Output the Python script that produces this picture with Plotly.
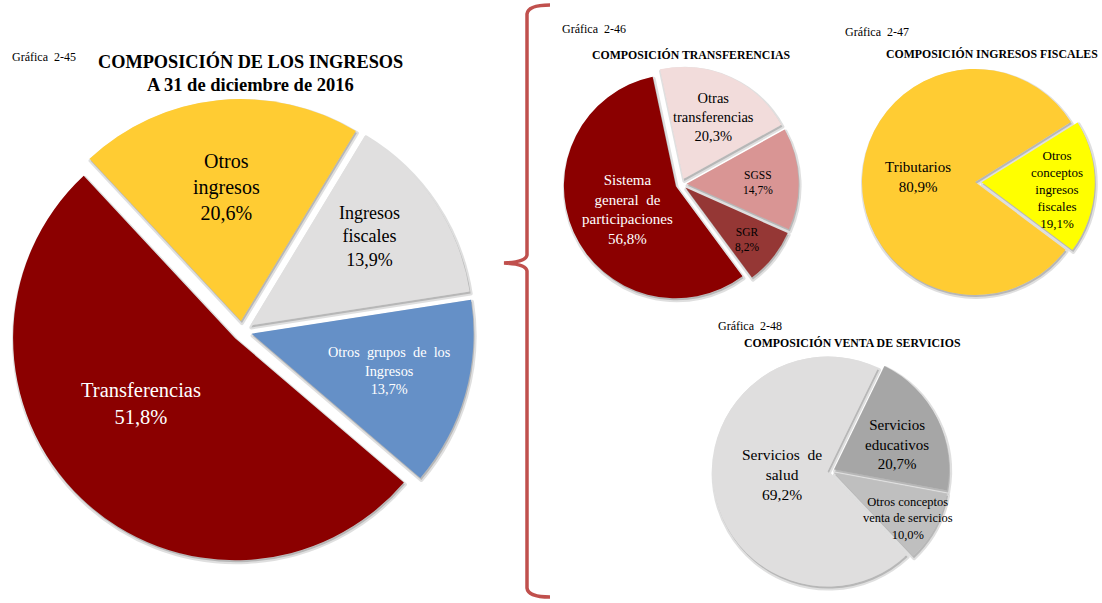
import plotly.graph_objects as go

W, H = 1102, 603
SERIF = "Liberation Serif"

# ---- data -------------------------------------------------------------
main_labels = ["Otros<br>ingresos", "Ingresos<br>fiscales",
               "Otros  grupos  de  los<br>Ingresos", "Transferencias"]
main_values = [20.6, 13.9, 13.7, 51.8]

transf_labels = ["Otras<br>transferencias", "SGSS", "SGR",
                 "Sistema<br>general  de<br>participaciones"]
transf_values = [20.3, 14.7, 8.2, 56.8]

fiscal_labels = ["Otros<br>conceptos<br>ingresos<br>fiscales", "Tributarios"]
fiscal_values = [19.1, 80.9]

serv_labels = ["Servicios<br>educativos",
               "Otros conceptos<br>venta de servicios",
               "Servicios  de<br>salud"]
serv_values = [20.7, 10.0, 69.2]


def px(x, y):
    return x / W, 1 - y / H


def domain(cx, cy, r, pull):
    half = r * (1 + pull)
    return dict(x=[(cx - half) / W, (cx + half) / W],
                y=[1 - (cy + half) / H, 1 - (cy - half) / H])


def pct(v):
    return f"{v:.1f}%".replace(".", ",")


fig = go.Figure()


def add_pie(values, colors, pulls, rotation, cx, cy, r):
    dom = domain(cx, cy, r, max(pulls))
    # soft grey halo under the slices
    sdom = domain(cx + 1, cy + 2, r, max(pulls))
    fig.add_trace(go.Pie(
        values=values, sort=False, direction="clockwise", rotation=rotation,
        pull=pulls, domain=sdom, textinfo="none", hoverinfo="skip",
        marker=dict(colors=["rgba(110,110,110,0.35)"] * len(values),
                    line=dict(color="rgba(110,110,110,0.22)", width=4)),
        showlegend=False))
    fig.add_trace(go.Pie(
        values=values, sort=False, direction="clockwise", rotation=rotation,
        pull=pulls, domain=dom, textinfo="none", hoverinfo="skip",
        marker=dict(colors=colors, line=dict(color="rgba(0,0,0,0)", width=0)),
        showlegend=False))


# Composición de los ingresos
add_pie(main_values, ["#FFCC33", "#E0DFDF", "#6590C7", "#8B0000"],
        [0.045, 0.045, 0.045, 0.045], -43, 242, 331, 222)
# Composición transferencias
add_pie(transf_values, ["#F2DCDB", "#D99594", "#953735", "#8B0000"],
        [0.05, 0.05, 0.05, 0.05], -12, 681, 184, 112)
# Composición ingresos fiscales
add_pie(fiscal_values, ["#FFFF00", "#FFCC33"],
        [0.06, 0.0], 58, 975, 182, 113)
# Composición venta de servicios
add_pie(serv_values, ["#A6A6A6", "#BFBFBF", "#DFDEDE"],
        [0.03, 0.03, 0.03], 26, 831, 471, 115)

ann = []


def text(x, y, s, size, color="#000000", bold=False, anchor="center"):
    ax, ay = px(x, y)
    if bold:
        s = f"<b>{s}</b>"
    ann.append(dict(x=ax, y=ay, xref="paper", yref="paper", text=s,
                    showarrow=False, xanchor=anchor, yanchor="middle",
                    align="center",
                    font=dict(family=SERIF, size=size, color=color)))


def slice_label(x, y, label, value, size, color="#000000"):
    text(x, y, f"{label}<br>{pct(value)}", size, color)


# titles
text(10, 57, "Gráfica  2-45", 12, anchor="left")
text(250, 62, "COMPOSICIÓN DE LOS INGRESOS", 18.3, bold=True)
text(250, 85, "A 31 de diciembre de 2016", 18.5, bold=True)
text(560, 29, "Gráfica  2-46", 12, anchor="left")
text(691, 55, "COMPOSICIÓN TRANSFERENCIAS", 11.8, bold=True)
text(843, 32, "Gráfica  2-47", 12, anchor="left")
text(992, 54, "COMPOSICIÓN INGRESOS FISCALES", 11.8, bold=True)
text(716, 326, "Gráfica  2-48", 12, anchor="left")
text(852, 343, "COMPOSICIÓN VENTA DE SERVICIOS", 11.8, bold=True)

# slice labels
slice_label(226, 187, main_labels[0], main_values[0], 20)
slice_label(369, 236, main_labels[1], main_values[1], 18)
slice_label(389, 370, main_labels[2], main_values[2], 14.3, "#FFFFFF")
slice_label(141, 403, main_labels[3], main_values[3], 20.5, "#FFFFFF")

slice_label(713, 117, transf_labels[0], transf_values[0], 14.5)
slice_label(758, 183, transf_labels[1], transf_values[1], 11.5)
slice_label(747, 240, transf_labels[2], transf_values[2], 11.5)
slice_label(627, 210, transf_labels[3], transf_values[3], 15, "#FFFFFF")

slice_label(1057, 189, fiscal_labels[0], fiscal_values[0], 13)
slice_label(918, 177, fiscal_labels[1], fiscal_values[1], 15)

slice_label(897, 444, serv_labels[0], serv_values[0], 15)
slice_label(908, 518, serv_labels[1], serv_values[1], 12.5)
slice_label(782, 474, serv_labels[2], serv_values[2], 15.5)

# curly brace joining the detail charts
pts = [(550, 5), (528, 5), (527, 14), (527, 255), (526, 262), (504, 263),
       (526, 264), (527, 271), (527, 588), (528, 597), (550, 597)]
p = [px(x, y) for x, y in pts]
path = (f"M {p[0][0]},{p[0][1]} Q {p[1][0]},{p[1][1]} {p[2][0]},{p[2][1]} "
        f"L {p[3][0]},{p[3][1]} Q {p[4][0]},{p[4][1]} {p[5][0]},{p[5][1]} "
        f"Q {p[6][0]},{p[6][1]} {p[7][0]},{p[7][1]} "
        f"L {p[8][0]},{p[8][1]} Q {p[9][0]},{p[9][1]} {p[10][0]},{p[10][1]}")

fig.update_layout(
    width=W, height=H, margin=dict(l=0, r=0, t=0, b=0),
    paper_bgcolor="#FFFFFF", plot_bgcolor="#FFFFFF",
    annotations=ann,
    shapes=[dict(type="path", xref="paper", yref="paper", path=path,
                 line=dict(color="#C0504D", width=3.5))],
)

fig.write_html("out.html")
